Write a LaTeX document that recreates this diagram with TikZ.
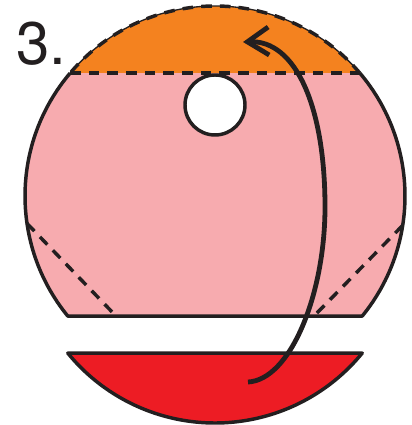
\documentclass[tikz,border=0pt]{standalone}
\usepackage{fontspec}
\setsansfont{TeX Gyre Heros}
\usetikzlibrary{arrows.meta}
\definecolor{capOrange}{HTML}{F4821F}
\definecolor{bodyPink}{HTML}{F7ABAF}
\definecolor{capRed}{HTML}{ED1C24}
\definecolor{inkBlack}{HTML}{231F20}
\begin{document}
\begin{tikzpicture}[
    x=0.75pt, y=0.75pt,
    outline/.style={draw=inkBlack, line width=2.6pt, line join=round},
    fold/.style={draw=inkBlack, line width=2.6pt, dash pattern=on 8pt off 6pt},
    turn/.style={draw=inkBlack, line width=3.6pt,
        -{Straight Barb[length=16pt, width=21pt]}},
]
\useasboundingbox (0,0) rectangle (411,425);

% Kreis und Schnittpunkte
\coordinate (c)  at (215,229);
\coordinate (cr) at (215,192);
\path (c) ++(40.3:190) coordinate (tr)
      (c) ++(139.7:190) coordinate (tl)
      (c) ++(-39.2:190) coordinate (br)
      (c) ++(219.2:190) coordinate (bl)
      (cr) ++(-39.2:190) coordinate (rr)
      (cr) ++(219.2:190) coordinate (rl);

% Kappe oben
\fill[capOrange] (tr) arc[start angle=40.3, end angle=139.7, radius=190] -- cycle;
\draw[draw=inkBlack, line width=1pt]
    (tr) arc[start angle=40.3, end angle=139.7, radius=190];
\draw[fold] (tr) arc[start angle=40.3, end angle=139.7, radius=190];

% Mittelteil
\fill[bodyPink] (br) arc[start angle=-39.2, end angle=40.3, radius=190]
    -- (tl) arc[start angle=139.7, end angle=219.2, radius=190] -- cycle;
\draw[outline] (tr) arc[start angle=40.3, end angle=-39.2, radius=190]
    -- (bl) arc[start angle=219.2, end angle=139.7, radius=190];
\draw[fold] (tl) -- (tr);
\draw[fold] (c) ++(188.3:190) -- (115,110);
\draw[fold] (c) ++(-8.9:190) -- (315,110);

% Loch
\draw[outline, fill=white] (215,320) circle[radius=30];

% Kappe unten
\draw[outline, fill=capRed] (rl) arc[start angle=219.2, end angle=320.8, radius=190] -- cycle;

% Pfeil
\draw[turn] (248,43) .. controls (290,45) and (325,130) .. (325,218)
    .. controls (325,320) and (295,385) .. (243,383);

% Nummer
\node[font=\sffamily\fontsize{45}{45}\selectfont, text=inkBlack,
    anchor=base west, inner sep=0pt] (nr) at (16,360) {3.};

\end{tikzpicture}
\end{document}
